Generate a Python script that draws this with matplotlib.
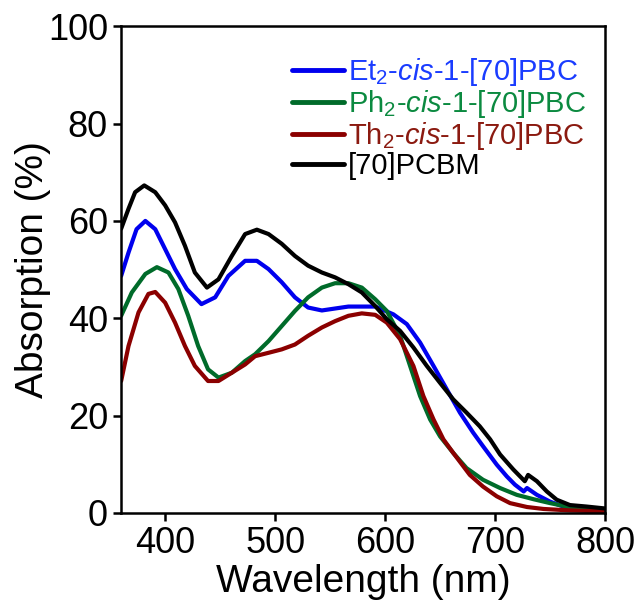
import numpy as np
import matplotlib
matplotlib.use("Agg")
import matplotlib.pyplot as plt

plt.rcParams['font.family'] = ['Liberation Sans', 'DejaVu Sans']
plt.rcParams['mathtext.fontset'] = 'custom'
plt.rcParams['mathtext.rm'] = 'Liberation Sans'
plt.rcParams['mathtext.it'] = 'Liberation Sans:italic'

# Wavelength (nm) / absorption (%)
wl_black = [360, 366.7, 372.7, 381, 391, 400, 409, 418, 427, 438, 448.5, 460.6, 472.7, 483.4, 494, 506, 518, 530, 542.5,
            554.5, 566.6, 578.8, 591, 601.5, 613.6, 625.7, 637.9, 650, 662, 674, 686, 695.5, 704.5, 716.6, 727, 730,
            738, 747, 756, 768, 783, 800]
ab_black = [58.4, 62.5, 65.9, 67.3, 65.9, 63.2, 59.7, 54.9, 49.4, 46.3, 48.0, 52.8, 57.3, 58.2, 57.3, 55.3, 52.8, 50.8, 49.4,
            48.4, 47.0, 45.3, 42.5, 39.8, 37.4, 34.0, 30.2, 26.7, 23.3, 20.6, 17.8, 15.1, 12.0, 8.9, 6.5, 7.8,
            6.5, 4.4, 2.7, 1.6, 1.3, 0.9]

wl_blue = [360, 366.7, 374, 382, 391, 400, 409, 419.7, 433, 445.5, 457.5, 472.7, 483.4, 494, 506, 518, 530, 542.5,
           554.5, 566.6, 578.8, 591, 607.5, 619.7, 631.8, 644, 656, 668, 680, 689, 701.5, 710.6, 718, 726, 729,
           738, 750, 762, 777, 800]
ab_blue = [48.7, 53.5, 58.3, 60.0, 58.3, 54.2, 50.1, 46.0, 42.9, 44.3, 48.7, 51.8, 51.8, 50.1, 47.4, 44.3, 42.2, 41.6,
           42.0, 42.4, 42.4, 42.4, 40.8, 38.8, 35.0, 30.2, 25.4, 20.6, 16.5, 13.7, 9.9, 7.5, 5.8, 4.4, 5.1,
           3.7, 2.3, 1.3, 0.6, 0.2]

wl_green = [360, 369.7, 382, 392.5, 403, 412, 421, 430, 439, 448.5, 460.6, 472.7, 481.8, 494, 506, 518, 530, 542.5,
            554.5, 566.6, 578.8, 591, 601.5, 613.6, 622.7, 631.8, 640.9, 650, 662, 674, 689, 704.5, 719.7, 735,
            750, 765, 780, 800]
ab_green = [40.5, 45.3, 49.1, 50.5, 49.4, 46.0, 40.5, 34.3, 29.5, 27.8, 28.8, 31.2, 32.6, 35.3, 38.4, 41.5, 44.3, 46.3,
            47.2, 47.2, 46.3, 43.9, 41.5, 36.4, 30.2, 24.0, 19.2, 15.7, 12.3, 9.2, 6.8, 5.1, 3.7, 2.8,
            2.0, 1.3, 0.9, 0.6]

wl_red = [360, 366.7, 375.8, 384.8, 391, 400, 409, 418, 427, 439, 448.5, 460.6, 472.7, 481.8, 494, 506, 518, 530, 542.5,
          554.5, 566.6, 578.8, 591, 601.5, 613.6, 625.7, 634.8, 644, 653, 662, 677, 689, 701.5, 713.6, 729, 744,
          768, 800]
ab_red = [27.1, 34.3, 41.2, 45.0, 45.4, 43.2, 39.1, 34.3, 30.2, 27.1, 27.1, 28.8, 30.5, 32.2, 32.9, 33.6, 34.6, 36.4, 38.1,
          39.4, 40.5, 41.0, 40.7, 39.1, 35.7, 30.2, 24.0, 19.2, 15.1, 12.3, 7.8, 5.4, 3.4, 2.0, 1.2, 0.8,
          0.5, 0.3]

labels = [r'Et$_2$-$\it{cis}$-1-[70]PBC', r'Ph$_2$-$\it{cis}$-1-[70]PBC',
          r'Th$_2$-$\it{cis}$-1-[70]PBC', '[70]PCBM']
colors = ['#0000ee', '#006b2a', '#8b0000', '#000000']
text_colors = ['#1a3cff', '#0b8a40', '#8b1a10', '#000000']

x_ticks = [400, 500, 600, 700, 800]
y_ticks = [0, 20, 40, 60, 80, 100]

fig = plt.figure(figsize=(6.41, 6.12), dpi=100)
ax = fig.add_axes([0.189, 0.162, 0.755, 0.795])

series = [(wl_blue, ab_blue), (wl_green, ab_green), (wl_red, ab_red), (wl_black, ab_black)]
for (wl, ab), c, lab in zip(series, colors, labels):
    ax.plot(wl, ab, color=c, lw=3.0, label=lab, solid_capstyle='round', solid_joinstyle='round')

ax.set_xlim(360, 800)
ax.set_ylim(0, 100)
ax.set_xticks(x_ticks)
ax.set_yticks(y_ticks)
ax.tick_params(direction='out', length=5.5, width=1.8, labelsize=26, pad=4)
for s in ax.spines.values():
    s.set_linewidth(1.8)
ax.set_xlabel('Wavelength (nm)', fontsize=28, labelpad=2)
ax.set_ylabel('Absorption (%)', fontsize=28, labelpad=-2)

leg = ax.legend(loc='upper left', bbox_to_anchor=(0.352, 0.938), frameon=False,
                fontsize=21, handlelength=1.8, handletextpad=0.12, labelspacing=0.0,
                borderaxespad=0, borderpad=0)
for t, c in zip(leg.get_texts(), text_colors):
    t.set_color(c)
for l in leg.get_lines():
    l.set_linewidth(3.5)

fig.savefig('out.png', dpi=100)
